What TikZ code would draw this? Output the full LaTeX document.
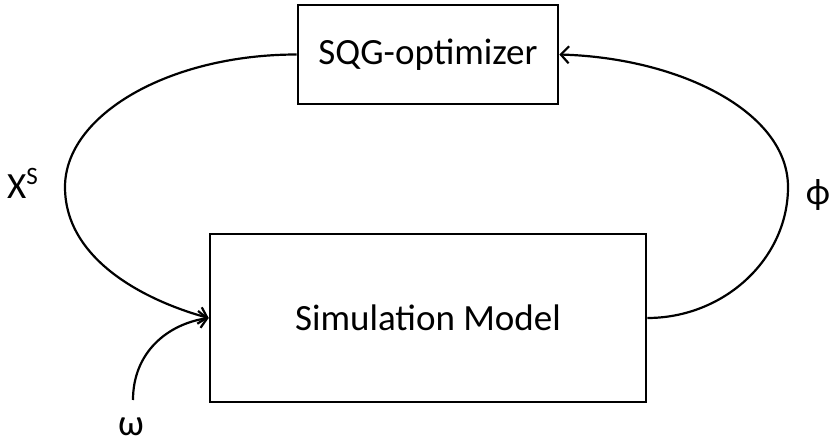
\documentclass[tikz,border=0pt]{standalone}
\usepackage{fontspec}
\setmainfont{Carlito}
\usetikzlibrary{arrows.meta}
\begin{document}
\begin{tikzpicture}[x=1pt,y=-1pt,
  block/.style={draw,line width=2.6pt,inner sep=0pt,font=\fontsize{37}{40}\selectfont},
  flow/.style={line width=2.2pt,-{Straight Barb[length=8pt,width=17pt,line width=2.2pt]}},
  sym/.style={inner sep=0pt,font=\fontsize{37}{40}\selectfont}]
\useasboundingbox (0,0) rectangle (829,444);
\node[block,minimum width=260pt,minimum height=99pt] (sqg) at (428,54.5) {SQG-optimizer};
\node[block,minimum width=436pt,minimum height=168pt] (sim) at (428,318) {Simulation Model};
\coordinate (wstart) at (133,400);
% decision variables fed back into the model
\draw[flow] (sqg.west) .. controls (169,54.5) and (65,115) .. (65,187)
  .. controls (65,262) and (150,302) .. (sim.west);
% objective estimate returned to the optimizer
\draw[flow] (sim.east) .. controls (724,318) and (788,259) .. (788,187)
  .. controls (788,112) and (680,58) .. (sqg.east);
% random input
\draw[flow] (wstart) .. controls (133,352) and (168,324) .. (sim.west);
\node[sym,anchor=base west] (xs) at (7,198) {X\raisebox{14pt}{\fontsize{25}{26}\selectfont S}};
\node[sym,anchor=base] (phi) at (818,204) {ϕ};
\node[sym,anchor=base] (om) at (131,435) {ω};
\end{tikzpicture}
\end{document}
